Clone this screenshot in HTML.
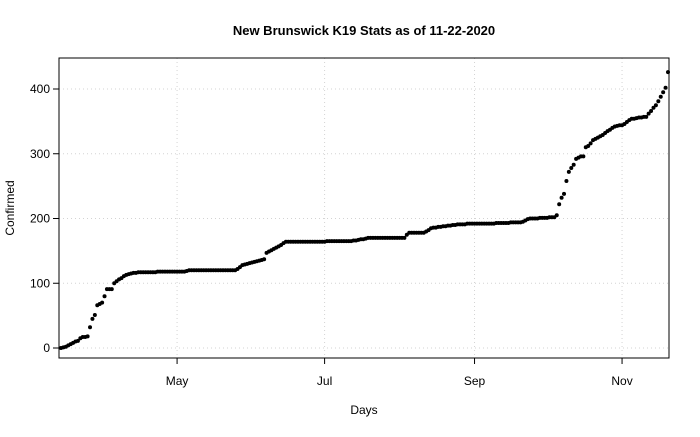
<!DOCTYPE html>
<html><head><meta charset="utf-8"><style>
body{margin:0;background:#fff}
svg text{font-family:"Liberation Sans",sans-serif;fill:#000}
</style></head><body>
<svg id="chart" width="700" height="432" xmlns="http://www.w3.org/2000/svg">
<text x="364" y="35" text-anchor="middle" font-size="13" font-weight="bold">New Brunswick K19 Stats as of 11-22-2020</text>
<text x="364" y="414" text-anchor="middle" font-size="12">Days</text>
<text x="14" y="208" text-anchor="middle" font-size="12" transform="rotate(-90 14 208)">Confirmed</text>
<g id="grid"></g>
<g id="axes"></g>
<g id="points"></g>
<rect x="59" y="58" width="610" height="300" fill="none" stroke="#000" stroke-width="1"/>
</svg>
<script>
const startDate = "2020-03-14";
const confirmed = [
0,1,2,4,6,8,10,11,15,17,
17,18,32,45,51,66,68,70,80,91,
91,91,100,103,106,108,111,113,114,115,
116,116,117,117,117,117,117,117,117,117,
118,118,118,118,118,118,118,118,118,118,
118,118,119,120,120,120,120,120,120,120,
120,120,120,120,120,120,120,120,120,120,
120,120,120,122,125,128,129,130,131,132,
133,134,135,136,137,147,149,151,153,155,
157,159,162,164,164,164,164,164,164,164,
164,164,164,164,164,164,164,164,164,164,
165,165,165,165,165,165,165,165,165,165,
165,166,166,167,168,168,169,170,170,170,
170,170,170,170,170,170,170,170,170,170,
170,170,170,175,178,178,178,178,178,178,
178,180,182,185,186,186,187,187,188,188,
189,189,190,190,191,191,191,191,192,192,
192,192,192,192,192,192,192,192,192,192,
193,193,193,193,193,193,194,194,194,194,
194,195,197,199,200,200,200,200,201,201,
201,201,202,202,202,205,222,232,238,258,
272,278,283,292,294,296,296,310,312,316,
321,323,325,327,329,332,335,337,340,342,
343,344,344,346,349,352,354,354,355,356,
356,357,357,362,366,371,375,381,388,395,
402,426];
const xTickLabels = ["May","Jul","Sep","Nov"];
const xTickDates = ["2020-05-01","2020-07-01","2020-09-01","2020-11-01"];
const yTicks = [0,100,200,300,400];

const NS="http://www.w3.org/2000/svg";
const DAY=86400000, t0=Date.parse(startDate);
const pxPerDay = (668-61)/251;
function xScale(d){return 61 + (Date.parse(d)-t0)/DAY*pxPerDay;}
function xIdx(i){return 61 + i*pxPerDay;}
function yScale(v){return 348 - v*0.6475;}
function mk(tag,attrs,parent){const e=document.createElementNS(NS,tag);for(const k in attrs)e.setAttribute(k,attrs[k]);parent.appendChild(e);return e;}
const grid=document.getElementById('grid'),axes=document.getElementById('axes'),pts=document.getElementById('points');

xTickDates.forEach((d,k)=>{
  const x=xScale(d);
  const g=mk('line',{x1:x,x2:x,y1:58,y2:358,stroke:'#d3d3d3','stroke-dasharray':'1,3'},grid);
  
  
  const t=mk('line',{x1:x,x2:x,y1:358,y2:364,stroke:'#000'},axes);
  
  
  const l=mk('text',{x:x,y:385,'text-anchor':'middle','font-size':'12'},axes);
  l.textContent=xTickLabels[k];
  
  
});
yTicks.forEach(v=>{
  const y=yScale(v);
  const g=mk('line',{x1:59,x2:669,y1:y,y2:y,stroke:'#d3d3d3','stroke-dasharray':'1,3'},grid);
  
  
  const t=mk('line',{x1:53,x2:59,y1:y,y2:y,stroke:'#000'},axes);
  
  
  const l=mk('text',{x:50,y:y+4,'text-anchor':'end','font-size':'12'},axes);
  l.textContent=v;
  
  
});
confirmed.forEach((v,i)=>{
  const c=mk('circle',{cx:xIdx(i),cy:yScale(v),r:2,fill:'#000'},pts);
  
  
});
</script>
</body></html>
